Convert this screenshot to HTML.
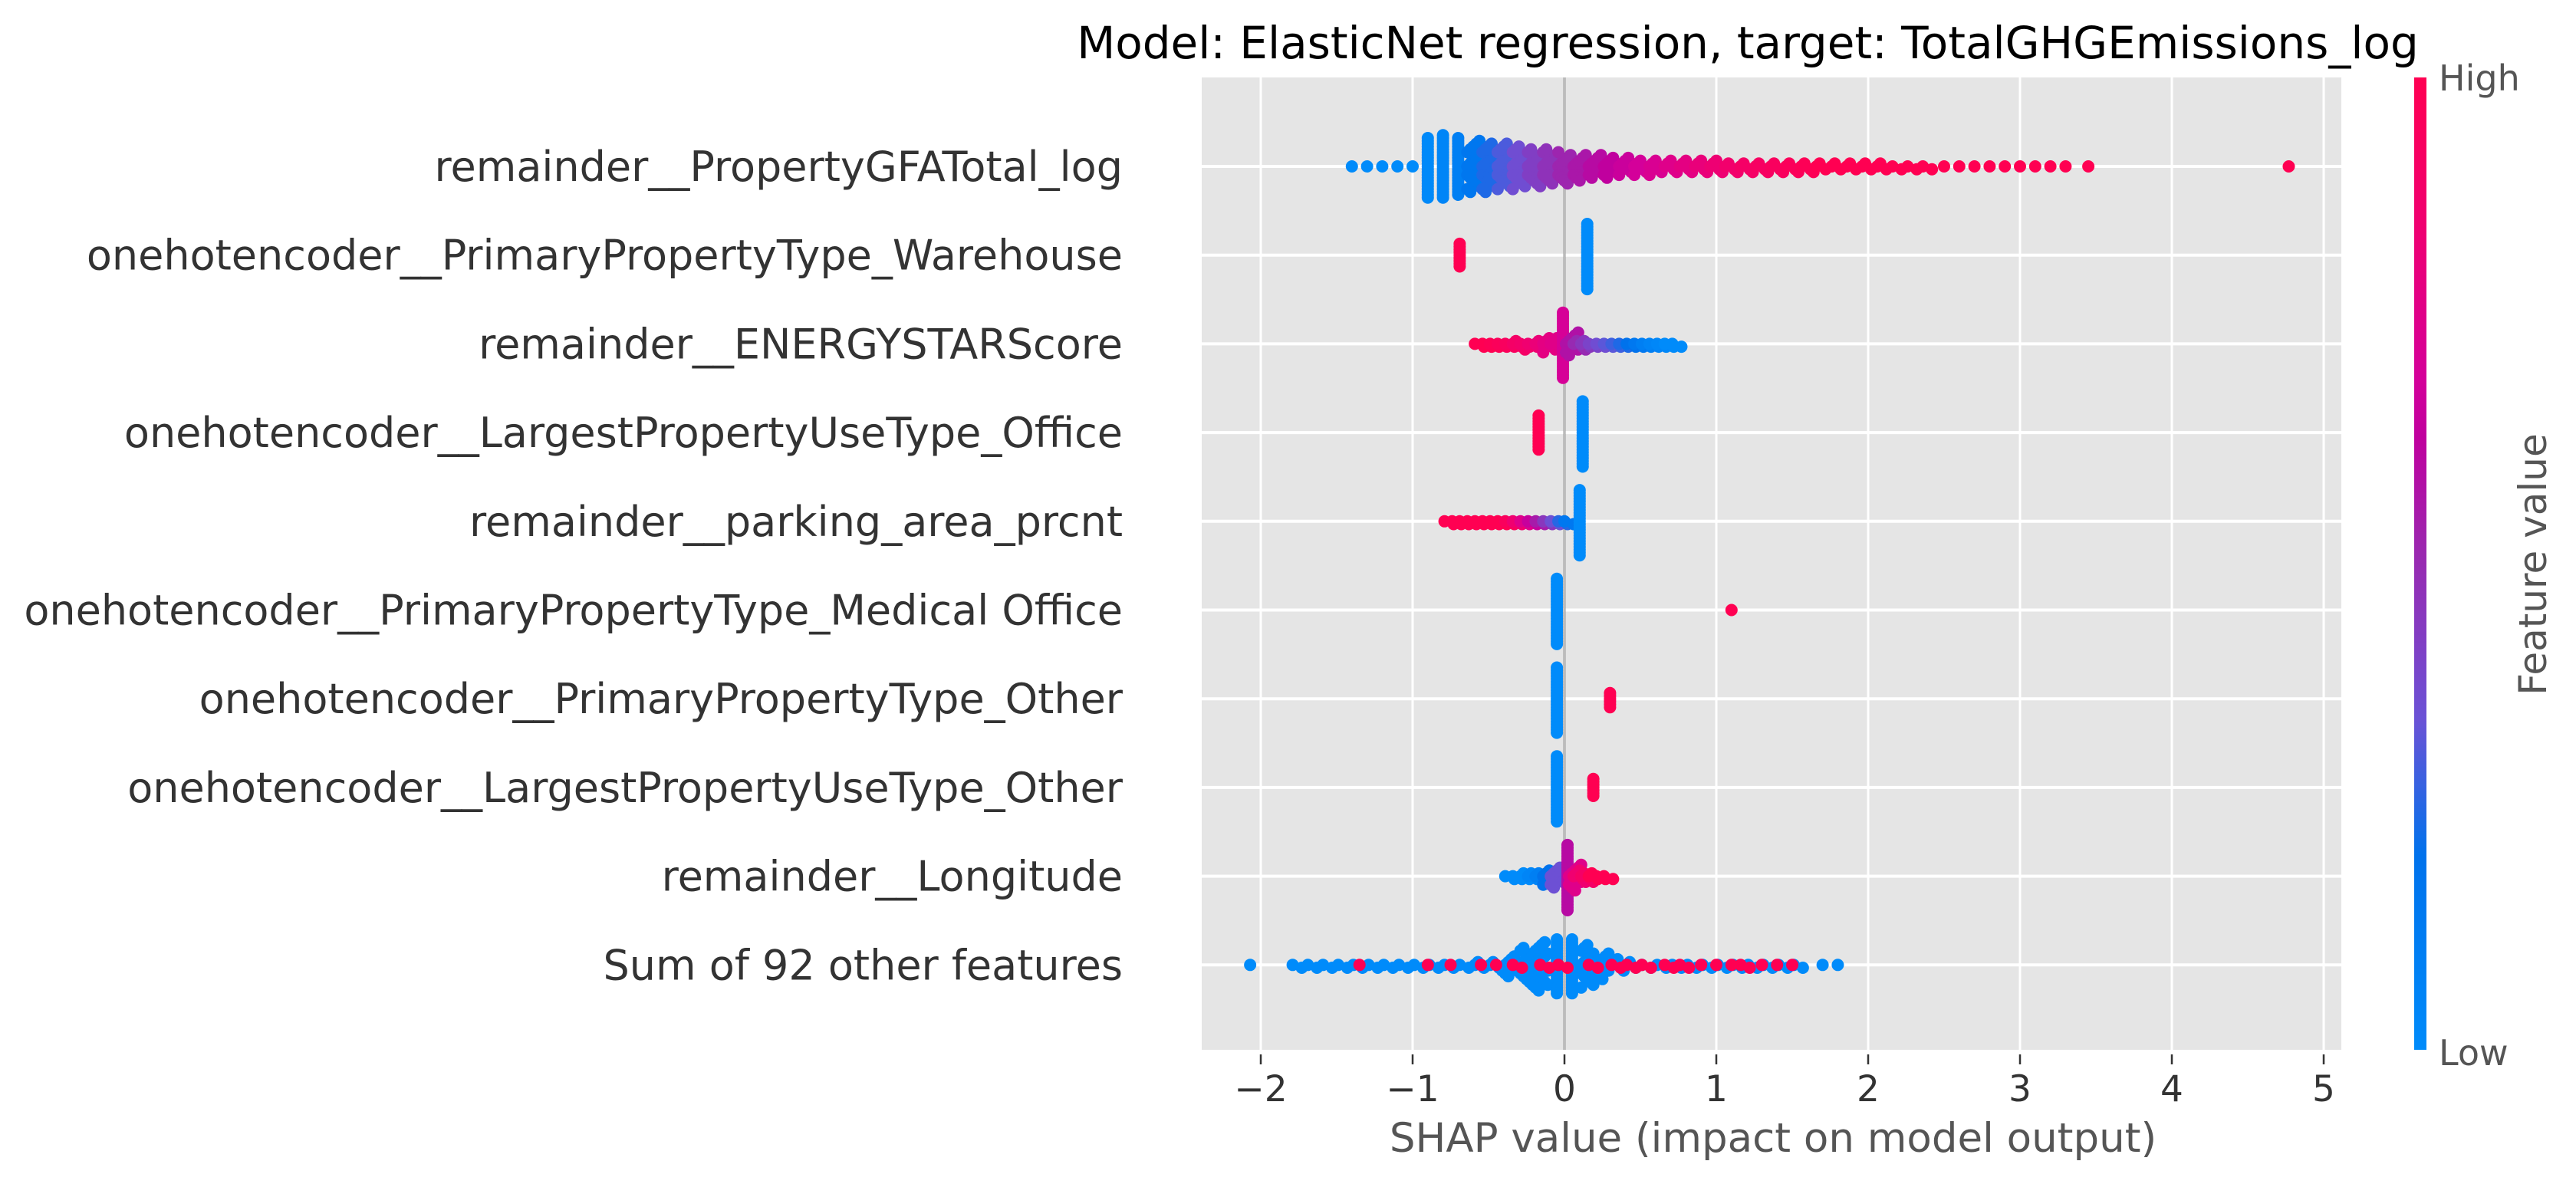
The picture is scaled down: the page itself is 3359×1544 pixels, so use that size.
<!DOCTYPE html>
<html><head><meta charset="utf-8"><style>
html,body{margin:0;padding:0;background:#fff;width:3359px;height:1544px;overflow:hidden}
svg text{font-family:"DejaVu Sans","Liberation Sans",sans-serif}
</style></head><body>
<svg id="chart" width="3359" height="1544" xmlns="http://www.w3.org/2000/svg">
<defs><linearGradient id="cbar" x1="0" y1="1" x2="0" y2="0">
<stop offset="0" stop-color="rgb(0,139,250)"/><stop offset="0.2" stop-color="rgb(0,114,236)"/>
<stop offset="0.34" stop-color="rgb(106,82,214)"/><stop offset="0.51" stop-color="rgb(154,40,176)"/>
<stop offset="0.63" stop-color="rgb(192,0,158)"/><stop offset="0.69" stop-color="rgb(212,0,154)"/>
<stop offset="0.85" stop-color="rgb(240,0,112)"/><stop offset="1" stop-color="rgb(255,0,82)"/>
</linearGradient></defs>
<rect x="1567" y="101" width="1486" height="1268" fill="#e5e5e5"/>
<g id="grid"></g><g id="dots"></g><g id="axes"></g>
<text x="2279" y="76" font-size="58" text-anchor="middle" fill="#000">Model: ElasticNet regression, target: TotalGHGEmissions_log</text>
<text x="2312" y="1502" font-size="53" text-anchor="middle" fill="#555">SHAP value (impact on model output)</text>
<rect x="3148" y="101" width="16" height="1268" fill="url(#cbar)"/>
<text x="3180" y="118" font-size="46" fill="#555">High</text>
<text x="3180" y="1389" font-size="46" fill="#555">Low</text>
<text transform="translate(3320,736) rotate(-90)" font-size="50" text-anchor="middle" fill="#555">Feature value</text>
</svg>
<script>
const features=["remainder__PropertyGFATotal_log","onehotencoder__PrimaryPropertyType_Warehouse","remainder__ENERGYSTARScore","onehotencoder__LargestPropertyUseType_Office","remainder__parking_area_prcnt","onehotencoder__PrimaryPropertyType_Medical Office","onehotencoder__PrimaryPropertyType_Other","onehotencoder__LargestPropertyUseType_Other","remainder__Longitude","Sum of 92 other features"];
const xTicks=[-2,-1,0,1,2,3,4,5];
const xTickLabels=["\u22122","\u22121","0","1","2","3","4","5"];
const row1X=[-1.4,-1.3,-1.2,-1.1,-1.0,-0.9,-0.8,-0.7,-0.6,-0.5,-0.4,-0.3,-0.2,-0.1,0,0.1,0.2,0.3,0.4,0.5,0.6,0.7,0.8,0.9,1.0,1.1,1.2,1.3,1.4,1.5,1.6,1.7,1.8,1.9,2.0,2.1,2.2,2.3,2.4,2.5,2.6,2.7,2.8,2.9,3.0,3.1,3.2,3.3,3.45,4.77];
const row1N=[1,1,1,1,1,22,23,21,19,18,17,16,14,13,12,10,9,8,7,6,6,5,5,5,5,4,4,4,4,4,4,3,3,3,3,3,2,2,2,1,1,1,1,1,1,1,1,1,1,1];
const row1C=[0,0,0,0,0,0.02,0.05,0.1,0.16,0.24,0.3,0.36,0.42,0.47,0.52,0.56,0.6,0.63,0.66,0.69,0.72,0.75,0.78,0.81,0.84,0.87,0.9,0.92,0.94,0.96,0.98,1,1,1,1,1,1,1,1,1,1,1,1,1,1,1,1,1,1,1];
const row2X=[-0.69,0.15],row2N=[9,24],row2C=[1,0];
const row3X=[-0.55,-0.5,-0.45,-0.4,-0.35,-0.3,-0.25,-0.2,-0.15,-0.1,-0.05,-0.01,0.05,0.1,0.15,0.2,0.25,0.3,0.35,0.4,0.45,0.5,0.55,0.6,0.65,0.7,0.75];
const row3N=[2,2,2,2,2,4,2,2,3,6,5,24,9,4,3,2,2,2,2,2,2,2,2,2,2,2,2];
const row3C=[1,1,0.98,0.96,0.94,0.9,0.88,0.85,0.82,0.78,0.76,0.7,0.58,0.5,0.45,0.4,0.36,0.32,0.28,0.24,0.2,0.15,0.1,0.06,0.03,0,0];
const row4X=[-0.17,0.12],row4N=[13,24],row4C=[1,0];
const row5X=[-0.75,-0.7,-0.65,-0.6,-0.55,-0.5,-0.45,-0.4,-0.35,-0.3,-0.25,-0.2,-0.15,-0.1,-0.05,0.0,0.04,0.1];
const row5N=[2,2,2,2,2,2,2,2,2,2,2,2,2,2,2,2,2,24];
const row5C=[1,1,1,1,1,1,1,1,0.95,0.85,0.75,0.65,0.55,0.45,0.35,0.25,0.15,0];
const row6X=[-0.05,1.1],row6N=[24,1],row6C=[0,1];
const row7X=[-0.05,0.3],row7N=[24,6],row7C=[0,1];
const row8X=[-0.05,0.19],row8N=[24,7],row8C=[0,1];
const row9X=[-0.35,-0.3,-0.25,-0.2,-0.15,-0.1,-0.05,0.02,0.07,0.1,0.15,0.2,0.25,0.3];
const row9N=[2,2,3,3,4,6,8,24,10,5,4,3,2,2];
const row9C=[0,0,0,0.05,0.1,0.2,0.35,0.6,0.75,0.85,0.9,1,1,1];
const row10RedX=[-1.35,-0.9,-0.75,-0.55,-0.45,-0.3,-0.12,0.0,0.2,0.35,0.45,0.55,0.7,0.8,0.9,1.0,1.1,1.2,1.3,1.4,1.5];
const row10RedN=[1,1,1,1,1,2,2,2,2,2,2,2,2,2,1,1,1,2,1,1,1];
const row10BlueX=[-2.07,-1.75,-1.65,-1.55,-1.45,-1.35,-1.25,-1.15,-1.05,-0.95,-0.85,-0.75,-0.65,-0.55,-0.45,-0.35,-0.25,-0.15,-0.05,0.05,0.15,0.25,0.35,0.45,0.55,0.65,0.75,0.85,0.95,1.05,1.15,1.25,1.35,1.45,1.55,1.7,1.8];
const row10BlueN=[1,2,2,2,2,2,2,2,2,2,2,2,2,3,4,8,14,18,20,20,16,10,5,3,2,2,2,2,2,2,2,2,2,2,2,1,1];

const NS="http://www.w3.org/2000/svg";
const PL=1567,PR=3053,PT=101,PB=1369;
const x0=2040,unit=198;
function xScale(v){return x0+v*unit;}
function yScale(i){return 217+i*115.7;}
const stops=[[0,[0,139,250]],[0.2,[0,114,236]],[0.34,[106,82,214]],[0.51,[154,40,176]],[0.63,[192,0,158]],[0.69,[212,0,154]],[0.85,[240,0,112]],[1,[255,0,82]]];
function cmap(t){t=Math.max(0,Math.min(1,t));for(let i=1;i<stops.length;i++){if(t<=stops[i][0]){const a=stops[i-1],b=stops[i];const f=(t-a[0])/(b[0]-a[0]);const c=a[1].map((v,k)=>Math.round(v+(b[1][k]-v)*f));return `rgb(${c[0]},${c[1]},${c[2]})`;}}return "rgb(255,0,82)";}
function mk(tag,attrs,parent){const e=document.createElementNS(NS,tag);for(const k in attrs)e.setAttribute(k,attrs[k]);parent.appendChild(e);return e;}
const grid=document.getElementById('grid'),dots=document.getElementById('dots'),axes=document.getElementById('axes');
xTicks.forEach((t,i)=>{
  const l=mk('line',{x1:xScale(t),x2:xScale(t),y1:PT,y2:PB,stroke:'#fff','stroke-width':3},grid);
  
  
  const tk=mk('line',{x1:xScale(t),x2:xScale(t),y1:PB+6,y2:PB+19,stroke:'#333','stroke-width':2.5},axes);
  
  
  const tx=mk('text',{x:xScale(t),y:1436,'font-size':47,'text-anchor':'middle',fill:'#333'},axes);
  tx.textContent=xTickLabels[i];
  
  
});
features.forEach((f,i)=>{
  const l=mk('line',{x1:PL,x2:PR,y1:yScale(i),y2:yScale(i),stroke:'#fff','stroke-width':4},grid);
  
  
  const tx=mk('text',{x:1464,y:yScale(i)+19,'font-size':54,'text-anchor':'end',fill:'#333'},axes);
  tx.textContent=f;
  
  
});
const zl=mk('line',{x1:xScale(0),x2:xScale(0),y1:PT,y2:PB,stroke:'#999','stroke-width':3},grid);


const zl2=mk('line',{x1:xScale(0),x2:xScale(0),y1:PT,y2:PB,stroke:'#ddd','stroke-width':1},grid);



function drawSeries(row,X,N,C,fixedC,spread){
  for(let j=0;j<X.length;j++){
    const col=cmap(fixedC!==undefined?fixedC:C[j]);
    const jit=spread&&N[j]>1&&N[j]<20;
    for(let k=0;k<N[j];k++){
      const m=Math.ceil(k/2)*(k%2?1:-1);
      const dx=jit?(((k*3)%5)-2)*0.02:0;
      const c=mk('circle',{cx:xScale(X[j]+dx),cy:yScale(row)+m*3.7,r:8,fill:col},dots);
      
      
    }
  }
}
drawSeries(0,row1X,row1N,row1C,undefined,true);
drawSeries(1,row2X,row2N,row2C);
drawSeries(2,row3X,row3N,row3C,undefined,true);
drawSeries(3,row4X,row4N,row4C);
drawSeries(4,row5X,row5N,row5C,undefined,true);
drawSeries(5,row6X,row6N,row6C);
drawSeries(6,row7X,row7N,row7C);
drawSeries(7,row8X,row8N,row8C);
drawSeries(8,row9X,row9N,row9C,undefined,true);
drawSeries(9,row10BlueX,row10BlueN,null,0,true);
drawSeries(9,row10RedX,row10RedN,null,1,true);
</script>
</body></html>
